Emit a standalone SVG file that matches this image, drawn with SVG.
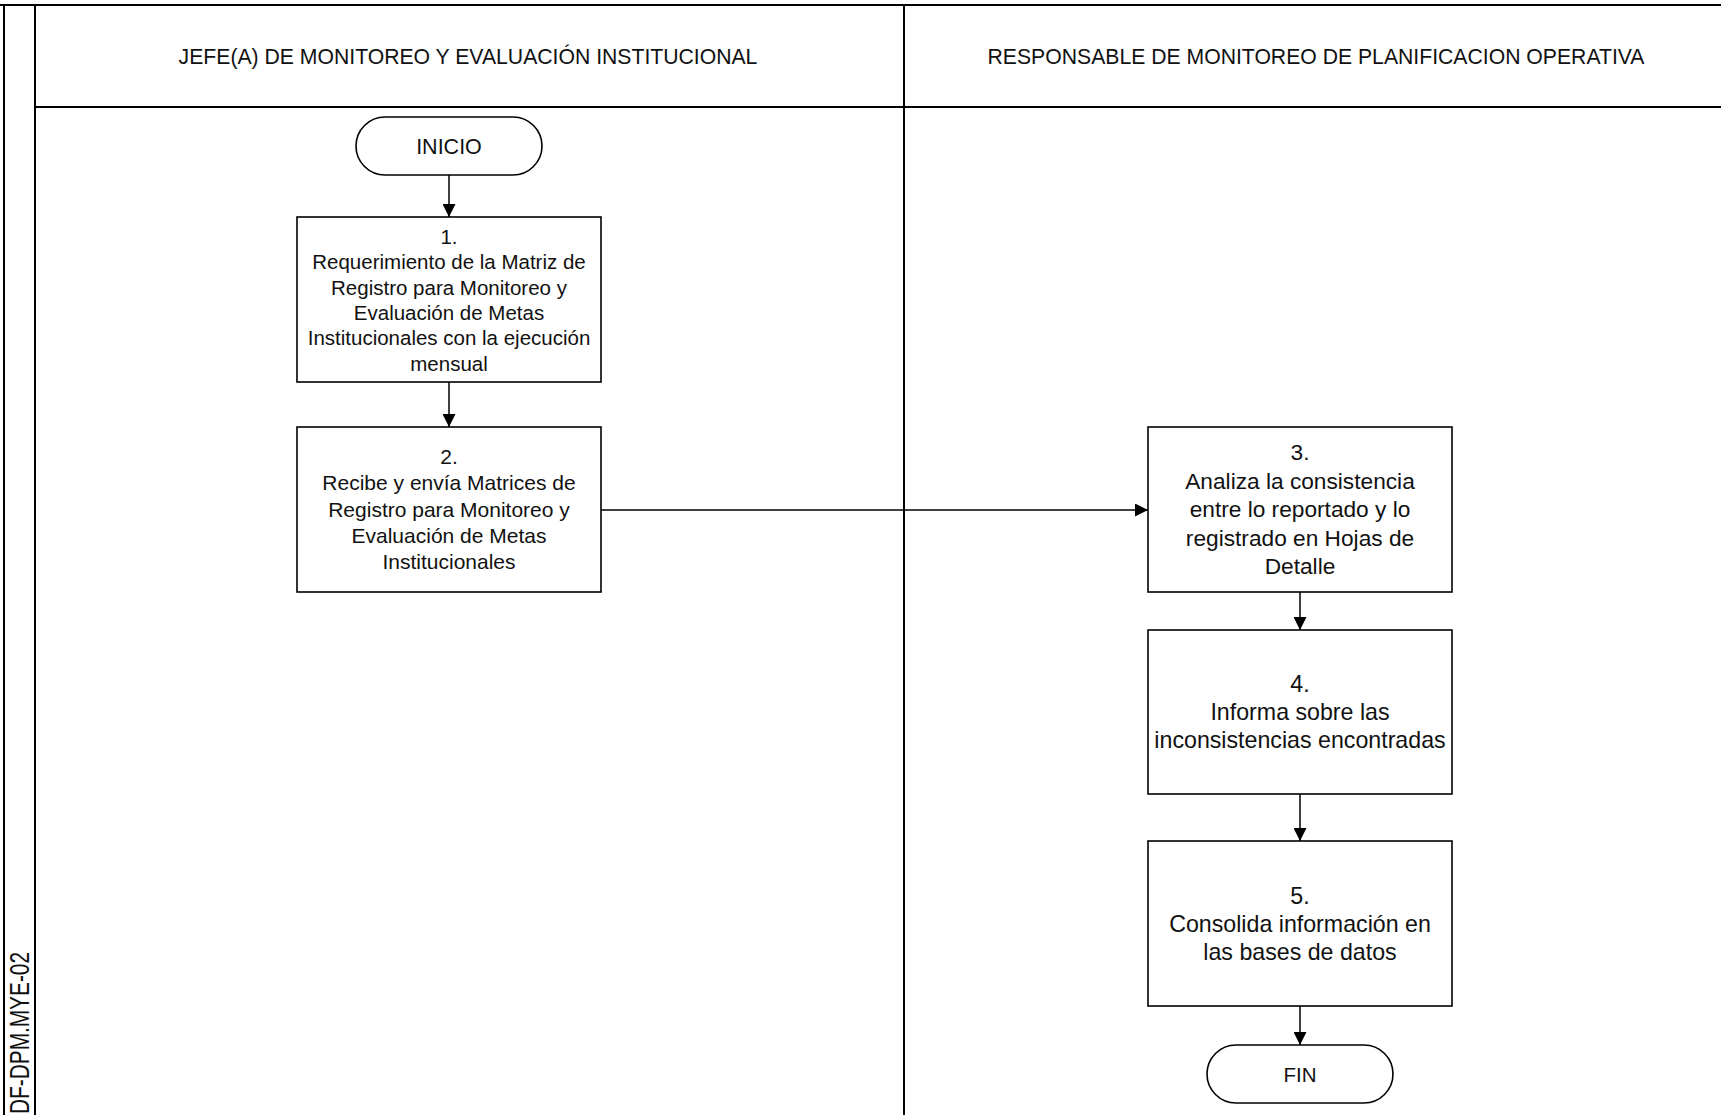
<svg xmlns="http://www.w3.org/2000/svg" width="1721" height="1115" viewBox="0 0 1721 1115">
  <style>
    .lane { stroke: #000; stroke-width: 2; fill: none; }
    .box { fill: #fff; stroke: #000; stroke-width: 1.6; }
    .edge { stroke: #000; stroke-width: 1.5; fill: none; }
    text { font-family: "Liberation Sans", Arial, sans-serif; fill: #111; text-anchor: middle; }
    .hdr { font-size: 21.2px; }
  </style>
  <defs>
    <marker id="arrow" viewBox="0 0 13 13" refX="13" refY="6.5" markerWidth="13" markerHeight="13" markerUnits="userSpaceOnUse" orient="auto">
      <path d="M0,0 L13,6.5 L0,13 Z" fill="#000"/>
    </marker>
  </defs>
  <rect width="1721" height="1115" fill="#fff"/>

  <!-- swimlane frame -->
  <g id="lanes">
    <line class="lane" x1="0" y1="5" x2="1721" y2="5"/>
    <line class="lane" x1="4" y1="5" x2="4" y2="1115"/>
    <line class="lane" x1="35" y1="5" x2="35" y2="1115"/>
    <line class="lane" x1="35" y1="107" x2="1721" y2="107"/>
    <line class="lane" x1="904" y1="5" x2="904" y2="1115"/>
    <text class="hdr" x="468" y="64">JEFE(A) DE MONITOREO Y EVALUACIÓN INSTITUCIONAL</text>
    <text class="hdr" x="1316" y="64">RESPONSABLE DE MONITOREO DE PLANIFICACION OPERATIVA</text>
    <text x="0" y="0" font-size="27" textLength="162" lengthAdjust="spacingAndGlyphs" transform="translate(29,1033) rotate(-90)">DF-DPM.MYE-02</text>
  </g>

  <!-- connectors -->
  <g id="connectors">
    <line class="edge" x1="449" y1="175" x2="449" y2="217" marker-end="url(#arrow)"/>
    <line class="edge" x1="449" y1="382" x2="449" y2="427" marker-end="url(#arrow)"/>
    <line class="edge" x1="601" y1="510" x2="1148" y2="510" marker-end="url(#arrow)"/>
    <line class="edge" x1="1300" y1="592" x2="1300" y2="630" marker-end="url(#arrow)"/>
    <line class="edge" x1="1300" y1="794" x2="1300" y2="841" marker-end="url(#arrow)"/>
    <line class="edge" x1="1300" y1="1006" x2="1300" y2="1045" marker-end="url(#arrow)"/>
  </g>

  <g id="inicio">
    <rect class="box" x="356" y="117" width="186" height="58" rx="29" ry="29"/>
    <text x="449" y="153.5" font-size="21.5">INICIO</text>
  </g>

  <g id="step1" font-size="20.5">
    <rect class="box" x="297" y="217" width="304" height="165"/>
    <text x="449" y="244">1.</text>
    <text x="449" y="269.3">Requerimiento de la Matriz de</text>
    <text x="449" y="294.6">Registro para Monitoreo y</text>
    <text x="449" y="319.9">Evaluación de Metas</text>
    <text x="449" y="345.2">Institucionales con la ejecución</text>
    <text x="449" y="370.5">mensual</text>
  </g>

  <g id="step2" font-size="21">
    <rect class="box" x="297" y="427" width="304" height="165"/>
    <text x="449" y="464">2.</text>
    <text x="449" y="490.3">Recibe y envía Matrices de</text>
    <text x="449" y="516.6">Registro para Monitoreo y</text>
    <text x="449" y="542.9">Evaluación de Metas</text>
    <text x="449" y="569.2">Institucionales</text>
  </g>

  <g id="step3" font-size="22.7">
    <rect class="box" x="1148" y="427" width="304" height="165"/>
    <text x="1300" y="460">3.</text>
    <text x="1300" y="488.5">Analiza la consistencia</text>
    <text x="1300" y="517">entre lo reportado y lo</text>
    <text x="1300" y="545.5">registrado en Hojas de</text>
    <text x="1300" y="574">Detalle</text>
  </g>

  <g id="step4" font-size="23.2">
    <rect class="box" x="1148" y="630" width="304" height="164"/>
    <text x="1300" y="692">4.</text>
    <text x="1300" y="720">Informa sobre las</text>
    <text x="1300" y="748">inconsistencias encontradas</text>
  </g>

  <g id="step5" font-size="23.2">
    <rect class="box" x="1148" y="841" width="304" height="165"/>
    <text x="1300" y="903.5">5.</text>
    <text x="1300" y="931.5">Consolida información en</text>
    <text x="1300" y="959.5">las bases de datos</text>
  </g>

  <g id="fin">
    <rect class="box" x="1207" y="1045" width="186" height="58" rx="29" ry="29"/>
    <text x="1300" y="1081.5" font-size="20.5">FIN</text>
  </g>
</svg>
